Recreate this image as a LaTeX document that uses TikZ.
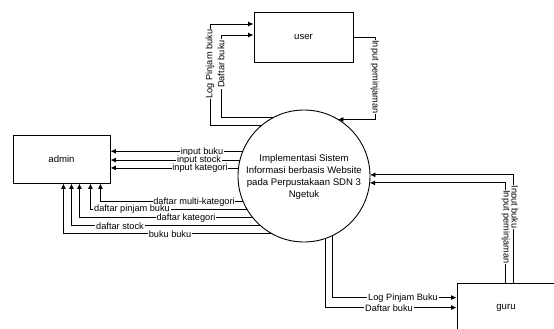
\documentclass[tikz,border=0pt]{standalone}
\usepackage{fontspec}
\setmainfont{Liberation Sans}
\usetikzlibrary{arrows.meta,calc}
\begin{document}
\begin{tikzpicture}[x=1pt,y=-1pt,
  ent/.style={draw=black,line width=0.9pt,rectangle,inner sep=0pt,font=\fontsize{9.6}{11}\selectfont},
  flow/.style={draw=black,line width=0.9pt,-{Latex[length=5.5pt,width=5pt]}},
  lbl/.style={fill=white,inner sep=0.8pt,font=\fontsize{9.2}{10}\selectfont,text=black}]
\useasboundingbox (0,0) rectangle (554,329);
% entities
\node[ent,minimum width=99pt,minimum height=50pt] (user) at (303.5,37) {user};
\node[ent,minimum width=97pt,minimum height=48pt] (admin) at (61.5,159) {admin};
\node[ent,minimum width=98pt,minimum height=50pt] (guru) at (506,308) {guru};
% process
\node[circle,draw=black,line width=0.9pt,minimum size=132pt,inner sep=0pt,outer sep=0pt] (sys) at (304,176) {};
\node[align=center,font=\fontsize{9.6}{11.8}\selectfont] (systxt) at (304,177)
  {Implementasi Sistem\\Informasi berbasis Website\\pada Perpustakaan SDN 3\\Ngetuk};
% circle -> admin (horizontal)
\draw[flow] (sys.158.7) -- (sys.158.7 -| admin.east);
\draw[flow] (sys.166.0) -- (sys.166.0 -| admin.east);
\draw[flow] (sys.173.0) -- (sys.173.0 -| admin.east);
\node[lbl] (l1) at (202,152) {input buku};
\node[lbl] (l2) at (199,160) {input stock};
\node[lbl] (l3) at (200,168) {input kategori};
% circle -> admin (bottom)
\draw[flow] (sys.203.2) -| ([xshift=-10pt]admin.south east);
\draw[flow] (sys.210.0) -| ([xshift=-20pt]admin.south east);
\draw[flow] (sys.219.5) -| ([xshift=-31pt]admin.south east);
\draw[flow] (sys.229.2) -| ([xshift=-39pt]admin.south east);
\draw[flow] (sys.241.5) -| ([xshift=-47pt]admin.south east);
\node[lbl] (l4) at (194,202) {daftar multi-kategori};
\node[lbl] (l5) at (132,209) {daftar pinjam buku};
\node[lbl] (l6) at (186,218) {daftar kategori};
\node[lbl] (l7) at (120,226) {daftar stock};
\node[lbl] (l8) at (170,234) {buku buku};
% circle -> user
\coordinate (lp) at (210,24);
\coordinate (db) at (221,35);
\coordinate (ip) at (375,37);
\draw[flow] (sys.130.8) -| (lp) -- (lp -| user.west);
\draw[flow] (sys.118.5) -| (db) -- (db -| user.west);
\draw[flow] (ip -| user.east) -- (ip) |- (sys.59.7);
\node[lbl,rotate=90] (l9) at (210,64) {Log Pinjam buku};
\node[lbl,rotate=90] (l10) at (221,64) {Daftar buku};
\node[lbl,rotate=-90] (l11) at (375,77) {Input peminjaman};
% guru -> circle
\draw[flow] ([xshift=57pt]guru.north west) |- (sys.1.7);
\draw[flow] ([xshift=49pt]guru.north west) |- (sys.354.8);
\node[lbl,rotate=-90] (l12) at (514,207) {Input buku};
\node[lbl,rotate=-90] (l13) at (506,227) {Input peminjaman};
% circle -> guru
\draw[flow] (sys.296.1) |- ([yshift=-15pt]guru.north west);
\draw[flow] (sys.289.5) |- ([yshift=-25pt]guru.north west);
\node[lbl] (l14) at (403,298) {Log Pinjam Buku};
\node[lbl] (l15) at (389,308) {Daftar buku};
\end{tikzpicture}
\end{document}
